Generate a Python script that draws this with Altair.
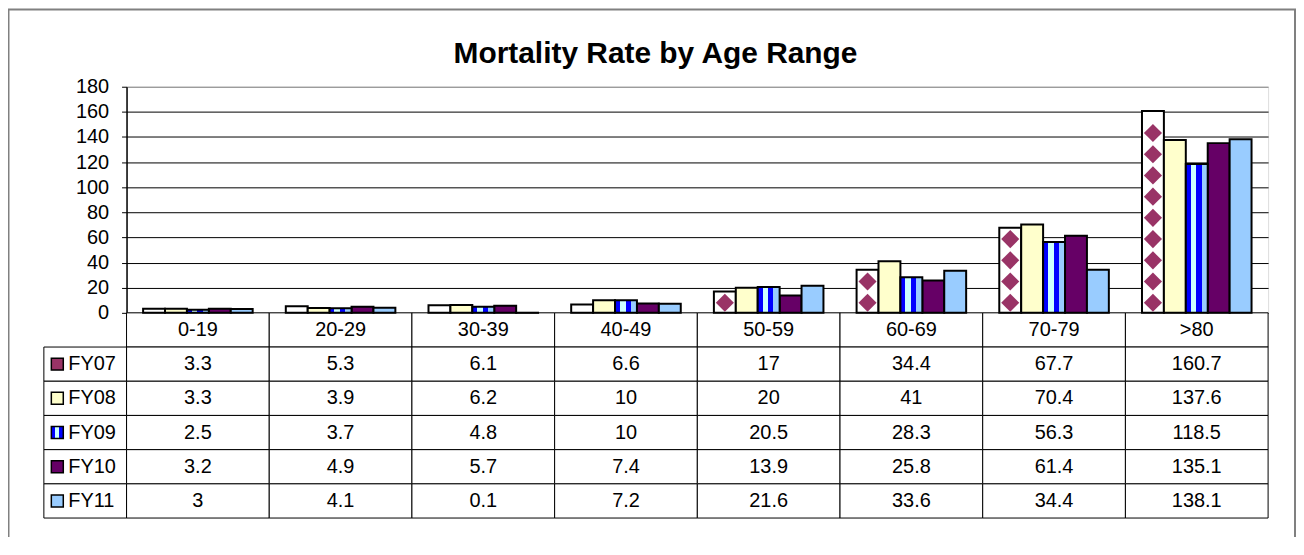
import altair as alt
import pandas as pd

# ---------------- data ----------------
categories = ["0-19", "20-29", "30-39", "40-49", "50-59", "60-69", "70-79", ">80"]
series = ["FY07", "FY08", "FY09", "FY10", "FY11"]
fy07 = [3.3, 5.3, 6.1, 6.6, 17, 34.4, 67.7, 160.7]
fy08 = [3.3, 3.9, 6.2, 10, 20, 41, 70.4, 137.6]
fy09 = [2.5, 3.7, 4.8, 10, 20.5, 28.3, 56.3, 118.5]
fy10 = [3.2, 4.9, 5.7, 7.4, 13.9, 25.8, 61.4, 135.1]
fy11 = [3, 4.1, 0.1, 7.2, 21.6, 33.6, 34.4, 138.1]
y_ticks = [0, 20, 40, 60, 80, 100, 120, 140, 160, 180]
title_text = "Mortality Rate by Age Range"

bar_colors = ["#FFFFFF", "#FFFFCC", "#0000FF", "#660066", "#99CCFF"]
swatch_colors = ["#993366", "#FFFFCC", "#0000FF", "#660066", "#99CCFF"]
FONT = "Liberation Sans"
FS = 20

values = dict(zip(series, [fy07, fy08, fy09, fy10, fy11]))
rows = []
for s in series:
    for c, v in zip(categories, values[s]):
        rows.append({"cat": c, "series": s, "value": v, "label": f"{v:g}"})
df = pd.DataFrame(rows)

hdr = pd.DataFrame({"cat": categories, "row": "hdr", "label": categories})
cells = pd.concat(
    [hdr, df.rename(columns={"series": "row"})[["cat", "row", "label"]]],
    ignore_index=True,
)
legend_df = pd.DataFrame({"col": "L", "row": series, "label": series})

# diamond fill pattern of the FY07 bars (decoration, derived from FY07 values)
pat_first, pat_step = 8.0, 16.9
diam = []
for c, v in zip(categories, fy07):
    k = 0
    while pat_first + k * pat_step <= v - 3.0:
        diam.append({"cat": c, "series": "FY07", "yc": pat_first + k * pat_step})
        k += 1
diam_df = pd.DataFrame(diam)

# ---------------- scales ----------------
W, H = 1146, 227
TABLE_BOTTOM = 433
x_cat = alt.Scale(domain=categories, paddingInner=0, paddingOuter=0)
x_off = alt.Scale(domain=series, paddingInner=0, paddingOuter=0.756)
y_val = alt.Scale(domain=[0, 180], nice=False)
y_row = alt.Scale(domain=["hdr"] + series, range=[H, TABLE_BOTTOM], paddingInner=0, paddingOuter=0)
x_leg = alt.Scale(domain=["L"], range=[-83, 0], paddingInner=0, paddingOuter=0)

X = alt.X("cat:N", scale=x_cat, axis=None, sort=categories)
XO = alt.XOffset("series:N", scale=x_off, sort=series)
YR = alt.Y("row:N", scale=y_row, axis=None)
XL = alt.X("col:N", scale=x_leg, axis=None)

# outer chart border
border = alt.Chart(pd.DataFrame({"k": [0]})).mark_rect(
    fill="transparent", stroke="#808080", strokeWidth=2
).encode(x=alt.value(-118.5), x2=alt.value(1173), y=alt.value(-77.5), y2=alt.value(470))

# table
cells_layer = alt.Chart(cells).mark_rect(fill="white", stroke="black", strokeWidth=1).encode(x=X, y=YR)
cell_text = alt.Chart(cells).mark_text(fontSize=FS, font=FONT, color="black", baseline="middle").encode(
    x=X, y=YR, text="label:N"
)
leg_cells = alt.Chart(legend_df).mark_rect(fill="white", stroke="black", strokeWidth=1).encode(x=XL, y=YR)
leg_text = alt.Chart(legend_df).mark_text(
    fontSize=FS, font=FONT, color="black", baseline="middle", align="left", dx=-17
).encode(x=XL, y=YR, text="label:N")
leg_sw = alt.Chart(legend_df).transform_filter("datum.row != 'FY09'").mark_point(
    shape="square", filled=True, size=144, stroke="black", strokeWidth=1.5, opacity=1, xOffset=-28
).encode(
    x=XL, y=YR,
    fill=alt.Fill("row:N", scale=alt.Scale(domain=series, range=swatch_colors), legend=None),
)
stripe = alt.Gradient(
    gradient="linear", x1=0, x2=1, y1=0, y2=0,
    stops=[
        alt.GradientStop(color="#0000FF", offset=0),
        alt.GradientStop(color="#0000FF", offset=0.22),
        alt.GradientStop(color="#CCFFFF", offset=0.22),
        alt.GradientStop(color="#CCFFFF", offset=0.48),
        alt.GradientStop(color="#0000FF", offset=0.48),
        alt.GradientStop(color="#0000FF", offset=0.72),
        alt.GradientStop(color="#99CCFF", offset=0.72),
        alt.GradientStop(color="#99CCFF", offset=1),
    ],
)
sw_grad = alt.Gradient(
    gradient="linear", x1=0, x2=1, y1=0, y2=0,
    stops=[
        alt.GradientStop(color="#0000FF", offset=0),
        alt.GradientStop(color="#0000FF", offset=0.3),
        alt.GradientStop(color="#CCFFFF", offset=0.3),
        alt.GradientStop(color="#CCFFFF", offset=0.65),
        alt.GradientStop(color="#0000FF", offset=0.65),
        alt.GradientStop(color="#0000FF", offset=1),
    ],
)
leg_sw9 = alt.Chart(legend_df).transform_filter("datum.row == 'FY09'").mark_point(
    shape="square", filled=True, size=144, stroke="black", strokeWidth=1.5, opacity=1, xOffset=-28,
    fill=sw_grad,
).encode(x=XL, y=YR)

# bars
y_axis = alt.Axis(
    orient="left", values=y_ticks, title=None, grid=True,
    gridColor={"condition": {"test": "datum.value == 180", "value": "#808080"}, "value": "black"},
    gridWidth=1, domainColor="black", domainWidth=1.5, tickColor="black", tickSize=5,
    labelFontSize=FS, labelFont=FONT, labelColor="black", labelPadding=13,
)
bars = alt.Chart(df).transform_filter("datum.series != 'FY09'").mark_bar(
    stroke="black", strokeWidth=2
).encode(
    x=X, xOffset=XO,
    y=alt.Y("value:Q", scale=y_val, axis=y_axis),
    fill=alt.Fill("series:N", scale=alt.Scale(domain=series, range=bar_colors), legend=None),
)
bars9 = alt.Chart(df).transform_filter("datum.series == 'FY09'").mark_bar(
    stroke="black", strokeWidth=2, fill=stripe
).encode(x=X, xOffset=XO, y=alt.Y("value:Q", scale=y_val, axis=None))
diamonds = alt.Chart(diam_df).mark_point(
    shape="diamond", filled=True, fill="#993366", size=330, opacity=1, strokeWidth=0
).encode(x=X, xOffset=XO, y=alt.Y("yc:Q", scale=y_val, axis=None))

chart = alt.layer(
    border, cells_layer, leg_cells, cell_text, leg_text, leg_sw, leg_sw9, bars, bars9, diamonds
).resolve_scale(x="independent", y="independent", fill="independent").properties(
    width=W, height=H,
    autosize=alt.AutoSizeParams(type="none"),
    padding={"left": 119, "top": 78, "right": 28, "bottom": 224},
    title=alt.TitleParams(
        title_text, fontSize=30, font=FONT, fontWeight="bold", color="black",
        anchor="middle", baseline="alphabetic", offset=-85, dx=-42,
    ),
).configure_view(fill="#D8D8FF", stroke="#808080", strokeWidth=1.5).configure(background="white")

chart.save("out.html", embed_options={"renderer": "svg", "actions": False})
